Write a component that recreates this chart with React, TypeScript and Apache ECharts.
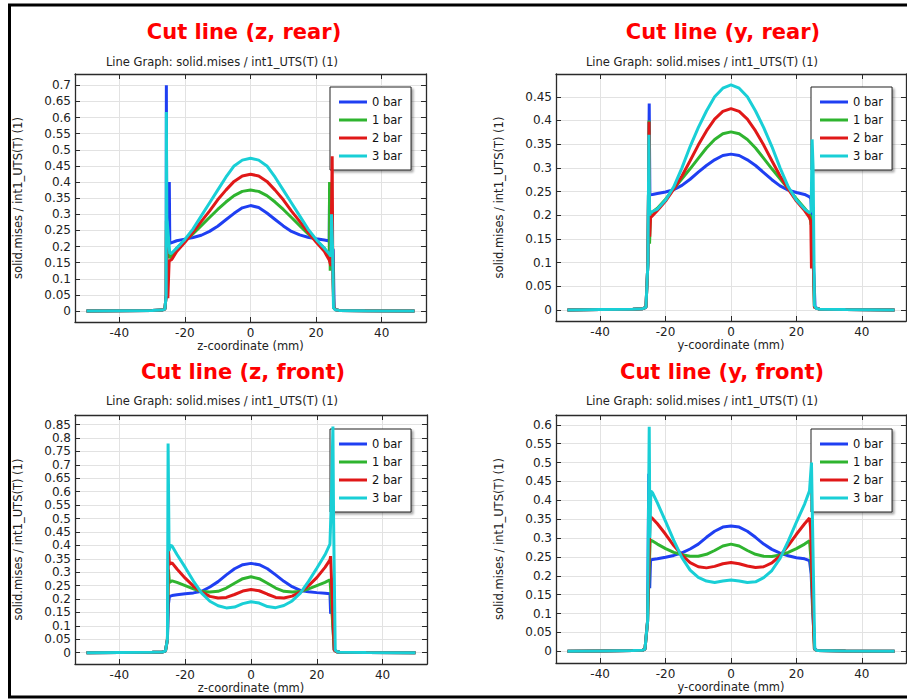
import React, { useEffect, useRef } from "react";
import * as echarts from "echarts";

// ---------- data ----------
const seriesNames = ["0 bar", "1 bar", "2 bar", "3 bar"];
const xTicks = [-40, -20, 0, 20, 40];
const yTicksZRear = [0, 0.05, 0.1, 0.15, 0.2, 0.25, 0.3, 0.35, 0.4, 0.45, 0.5, 0.55, 0.6, 0.65, 0.7];
const yTicksYRear = [0, 0.05, 0.1, 0.15, 0.2, 0.25, 0.3, 0.35, 0.4, 0.45];
const yTicksZFront = [0, 0.05, 0.1, 0.15, 0.2, 0.25, 0.3, 0.35, 0.4, 0.45, 0.5, 0.55, 0.6, 0.65, 0.7, 0.75, 0.8, 0.85];
const yTicksYFront = [0, 0.05, 0.1, 0.15, 0.2, 0.25, 0.3, 0.35, 0.4, 0.45, 0.5, 0.55, 0.6];

// Cut line (z, rear)
const zRear0 = [[-50,0],[-40,0.001],[-30,0.002],[-27,0.003],[-26.1,0.006],[-25.7,0.05],[-25.65,0.7],[-25.55,0.28],[-24.75,0.4],[-24.6,0.21],[-24,0.212],[-22.5,0.218],[-20,0.223],[-17.5,0.228],[-15,0.235],[-12.5,0.247],[-10,0.263],[-7.5,0.283],[-5,0.303],[-2.5,0.32],[0,0.327],[2.5,0.321],[5,0.304],[7.5,0.284],[10,0.264],[12.5,0.247],[15,0.236],[17.5,0.229],[20,0.224],[22.5,0.22],[24,0.217],[24.1,0.37],[24.3,0.205],[25.2,0.19],[25.5,0.01],[26,0.004],[27,0.002],[35,0.001],[50,0]];
const zRear1 = [[-50,0],[-40,0.001],[-30,0.002],[-27,0.003],[-26.1,0.006],[-25.7,0.05],[-25.65,0.28],[-25.5,0.2],[-24.7,0.165],[-24,0.172],[-22.5,0.195],[-20,0.217],[-17.5,0.24],[-15,0.265],[-12.5,0.29],[-10,0.315],[-7.5,0.338],[-5,0.358],[-2.5,0.371],[0,0.375],[2.5,0.371],[5,0.358],[7.5,0.338],[10,0.315],[12.5,0.29],[15,0.265],[17.5,0.24],[20,0.218],[22.5,0.195],[24,0.17],[24.1,0.4],[24.3,0.125],[25,0.2],[25.4,0.01],[26,0.004],[27,0.002],[35,0.001],[50,0]];
const zRear2 = [[-50,0],[-40,0.001],[-30,0.002],[-27,0.003],[-26.1,0.006],[-25.7,0.05],[-25.65,0.25],[-25.2,0.04],[-24.8,0.155],[-24,0.16],[-22.5,0.185],[-20,0.213],[-17.5,0.245],[-15,0.278],[-12.5,0.31],[-10,0.345],[-7.5,0.375],[-5,0.402],[-2.5,0.419],[0,0.424],[2.5,0.419],[5,0.402],[7.5,0.375],[10,0.345],[12.5,0.31],[15,0.278],[17.5,0.245],[20,0.214],[22.5,0.185],[24,0.158],[24.5,0.14],[24.9,0.48],[25.1,0.1],[25.4,0.01],[26,0.004],[27,0.002],[35,0.001],[50,0]];
const zRear3 = [[-50,0],[-40,0.001],[-30,0.002],[-27,0.003],[-26.1,0.006],[-25.7,0.05],[-25.65,0.617],[-25.5,0.29],[-24.6,0.178],[-24,0.18],[-22.5,0.195],[-20,0.222],[-17.5,0.255],[-15,0.295],[-12.5,0.335],[-10,0.375],[-7.5,0.415],[-5,0.45],[-2.5,0.468],[0,0.474],[2.5,0.468],[5,0.45],[7.5,0.415],[10,0.375],[12.5,0.335],[15,0.295],[17.5,0.255],[20,0.222],[22.5,0.195],[24,0.178],[24.5,0.17],[24.7,0.3],[25,0.2],[25.3,0.01],[25.8,0.004],[27,0.002],[35,0.001],[50,0]];

// Cut line (y, rear)
const yRear0 = [[-50,0],[-40,0.001],[-30,0.002],[-27,0.003],[-26,0.006],[-25.4,0.1],[-25,0.436],[-24.8,0.243],[-24,0.244],[-22.5,0.246],[-20,0.249],[-17.5,0.254],[-15,0.263],[-12.5,0.276],[-10,0.291],[-7.5,0.305],[-5,0.317],[-2.5,0.326],[0,0.329],[2.5,0.326],[5,0.317],[7.5,0.305],[10,0.29],[12.5,0.275],[15,0.262],[17.5,0.253],[20,0.248],[22.5,0.244],[24,0.239],[24.4,0.235],[24.6,0.21],[25.2,0.1],[25.7,0.006],[27,0.002],[35,0.001],[50,0]];
const yRear1 = [[-50,0],[-40,0.001],[-30,0.002],[-27,0.003],[-26,0.006],[-25.4,0.1],[-25.05,0.4],[-24.9,0.14],[-24.6,0.205],[-24,0.207],[-22.5,0.215],[-20,0.234],[-17.5,0.256],[-15,0.277],[-12.5,0.298],[-10,0.32],[-7.5,0.342],[-5,0.36],[-2.5,0.372],[0,0.376],[2.5,0.372],[5,0.36],[7.5,0.342],[10,0.32],[12.5,0.298],[15,0.277],[17.5,0.256],[20,0.235],[22.5,0.215],[24,0.203],[24.5,0.18],[24.8,0.2],[25.5,0.006],[27,0.002],[35,0.001],[50,0]];
const yRear2 = [[-50,0],[-40,0.001],[-30,0.002],[-27,0.003],[-26,0.006],[-25.4,0.1],[-25.05,0.397],[-24.85,0.155],[-24.6,0.195],[-24,0.199],[-22.5,0.21],[-20,0.23],[-17.5,0.255],[-15,0.283],[-12.5,0.315],[-10,0.348],[-7.5,0.378],[-5,0.403],[-2.5,0.419],[0,0.425],[2.5,0.419],[5,0.403],[7.5,0.378],[10,0.348],[12.5,0.315],[15,0.283],[17.5,0.255],[20,0.23],[22.5,0.21],[24,0.195],[24.4,0.188],[24.6,0.088],[24.8,0.19],[25.5,0.006],[27,0.002],[35,0.001],[50,0]];
const yRear3 = [[-50,0],[-40,0.001],[-30,0.002],[-27,0.003],[-26,0.006],[-25.4,0.1],[-25.1,0.37],[-24.9,0.2],[-24.6,0.206],[-24,0.208],[-22.5,0.213],[-20,0.232],[-17.5,0.26],[-15,0.3],[-12.5,0.345],[-10,0.385],[-7.5,0.42],[-5,0.45],[-2.5,0.468],[0,0.475],[2.5,0.468],[5,0.45],[7.5,0.42],[10,0.385],[12.5,0.345],[15,0.3],[17.5,0.26],[20,0.232],[22.5,0.213],[24,0.205],[24.5,0.21],[24.8,0.36],[25.1,0.3],[25.5,0.01],[26,0.004],[27,0.002],[35,0.001],[50,0]];

// Cut line (z, front)
const zFront0 = [[-50,0],[-40,0.001],[-30,0.002],[-27,0.003],[-26,0.006],[-25.4,0.05],[-25.1,0.18],[-24.8,0.21],[-24,0.213],[-22.5,0.216],[-20,0.22],[-17.5,0.223],[-15,0.229],[-12.5,0.245],[-10,0.265],[-7.5,0.29],[-5,0.313],[-2.5,0.328],[0,0.333],[2.5,0.328],[5,0.313],[7.5,0.29],[10,0.266],[12.5,0.246],[15,0.232],[17.5,0.227],[20,0.224],[22.5,0.222],[24,0.22],[24.2,0.145],[24.5,0.2],[25.3,0.01],[26,0.004],[27,0.002],[35,0.001],[50,0]];
const zFront1 = [[-50,0],[-40,0.001],[-30,0.002],[-27,0.003],[-26,0.006],[-25.4,0.05],[-25.1,0.31],[-24.8,0.262],[-24,0.268],[-22.5,0.262],[-20,0.25],[-17.5,0.238],[-15,0.228],[-12.5,0.226],[-10,0.229],[-7.5,0.241],[-5,0.259],[-2.5,0.276],[0,0.283],[2.5,0.276],[5,0.259],[7.5,0.241],[10,0.229],[12.5,0.226],[15,0.228],[17.5,0.238],[20,0.25],[22.5,0.262],[24,0.272],[24.2,0.24],[25.3,0.01],[26,0.004],[27,0.002],[35,0.001],[50,0]];
const zFront2 = [[-50,0],[-40,0.001],[-30,0.002],[-27,0.003],[-26,0.006],[-25.4,0.05],[-25.1,0.383],[-24.8,0.33],[-24,0.335],[-22.5,0.312],[-20,0.278],[-17.5,0.248],[-15,0.226],[-12.5,0.21],[-10,0.204],[-7.5,0.206],[-5,0.217],[-2.5,0.23],[0,0.236],[2.5,0.231],[5,0.218],[7.5,0.206],[10,0.204],[12.5,0.211],[15,0.226],[17.5,0.25],[20,0.28],[22.5,0.318],[24,0.346],[24.2,0.36],[25.3,0.01],[26,0.004],[27,0.002],[35,0.001],[50,0]];
const zFront3 = [[-50,0],[-40,0.001],[-30,0.002],[-27,0.003],[-26,0.006],[-25.4,0.05],[-25.2,0.78],[-24.9,0.38],[-24.5,0.4],[-24,0.398],[-22.5,0.366],[-20,0.318],[-17.5,0.267],[-15,0.222],[-12.5,0.192],[-10,0.175],[-7.5,0.167],[-5,0.17],[-2.5,0.183],[0,0.19],[2.5,0.185],[5,0.172],[7.5,0.168],[10,0.176],[12.5,0.193],[15,0.222],[17.5,0.266],[20,0.315],[22.5,0.365],[24,0.405],[24.5,0.6],[24.9,0.843],[25.1,0.5],[25.6,0.01],[26.2,0.004],[27,0.002],[35,0.001],[50,0]];

// Cut line (y, front)
const yFront0 = [[-50,0],[-40,0.001],[-30,0.002],[-27,0.003],[-26.3,0.006],[-25.5,0.08],[-25.15,0.47],[-24.85,0.167],[-24.6,0.242],[-24,0.243],[-22.5,0.245],[-20,0.249],[-17.5,0.254],[-15,0.261],[-12.5,0.271],[-10,0.284],[-7.5,0.302],[-5,0.318],[-2.5,0.329],[0,0.332],[2.5,0.329],[5,0.318],[7.5,0.302],[10,0.284],[12.5,0.27],[15,0.26],[17.5,0.253],[20,0.248],[22.5,0.245],[24,0.24],[24.5,0.205],[25,0.1],[25.6,0.006],[26.3,0.002],[35,0.001],[50,0]];
const yFront1 = [[-50,0],[-40,0.001],[-30,0.002],[-27,0.003],[-26.3,0.006],[-25.5,0.08],[-25,0.221],[-24.7,0.295],[-24,0.292],[-22.5,0.284],[-20,0.272],[-17.5,0.262],[-15,0.256],[-12.5,0.252],[-10,0.252],[-7.5,0.257],[-5,0.267],[-2.5,0.279],[0,0.284],[2.5,0.279],[5,0.267],[7.5,0.257],[10,0.252],[12.5,0.251],[15,0.255],[17.5,0.262],[20,0.272],[22.5,0.284],[24,0.293],[24.4,0.25],[25.5,0.006],[26.3,0.002],[35,0.001],[50,0]];
const yFront2 = [[-50,0],[-40,0.001],[-30,0.002],[-27,0.003],[-26.3,0.006],[-25.5,0.08],[-25,0.28],[-24.7,0.357],[-24,0.352],[-22.5,0.338],[-20,0.31],[-17.5,0.28],[-15,0.255],[-12.5,0.235],[-10,0.224],[-7.5,0.221],[-5,0.225],[-2.5,0.232],[0,0.235],[2.5,0.232],[5,0.226],[7.5,0.222],[10,0.224],[12.5,0.234],[15,0.253],[17.5,0.28],[20,0.31],[22.5,0.338],[24,0.353],[24.3,0.33],[25.5,0.006],[26.3,0.002],[35,0.001],[50,0]];
const yFront3 = [[-50,0],[-40,0.001],[-30,0.002],[-27,0.003],[-26.3,0.006],[-25.5,0.08],[-25,0.595],[-24.8,0.3],[-24.5,0.425],[-24,0.42],[-22.5,0.393],[-20,0.344],[-17.5,0.294],[-15,0.248],[-12.5,0.215],[-10,0.196],[-7.5,0.186],[-5,0.182],[-2.5,0.186],[0,0.189],[2.5,0.186],[5,0.182],[7.5,0.184],[10,0.195],[12.5,0.214],[15,0.246],[17.5,0.292],[20,0.342],[22.5,0.39],[24,0.425],[24.6,0.5],[25,0.3],[25.6,0.006],[26.3,0.002],[35,0.001],[50,0]];

// ---------- styling / layout ----------
const COLORS = ["#1f3ff2", "#2fb42f", "#e01818", "#19cfd6"];
const FONT = "DejaVu Sans";
const SUBTITLE = "Line Graph: solid.mises / int1_UTS(T) (1)";
const YNAME = "solid.mises / int1_UTS(T) (1)";

const panels = [
  { title: "Cut line (z, rear)", xName: "z-coordinate (mm)", series: [zRear0, zRear1, zRear2, zRear3], yTicks: yTicksZRear, yMin: -0.034, yMax: 0.735,
    grid: { left: 75, top: 74, width: 351, height: 248 }, legend: { left: 330, top: 87 }, titleX: 244, titleY: 32, subX: 222, subY: 62 },
  { title: "Cut line (y, rear)", xName: "y-coordinate (mm)", series: [yRear0, yRear1, yRear2, yRear3], yTicks: yTicksYRear, yMin: -0.023, yMax: 0.498,
    grid: { left: 556, top: 74, width: 350, height: 247 }, legend: { left: 811, top: 87 }, titleX: 723, titleY: 32, subX: 702, subY: 62 },
  { title: "Cut line (z, front)", xName: "z-coordinate (mm)", series: [zFront0, zFront1, zFront2, zFront3], yTicks: yTicksZFront, yMin: -0.042, yMax: 0.886,
    grid: { left: 75, top: 415, width: 352, height: 249 }, legend: { left: 330, top: 429 }, titleX: 243, titleY: 372, subX: 222, subY: 401 },
  { title: "Cut line (y, front)", xName: "y-coordinate (mm)", series: [yFront0, yFront1, yFront2, yFront3], yTicks: yTicksYFront, yMin: -0.031, yMax: 0.626,
    grid: { left: 556, top: 415, width: 350, height: 248 }, legend: { left: 811, top: 429 }, titleX: 722, titleY: 372, subX: 702, subY: 401 },
];

const AXIS_COLOR = "#2a2a2a";
const fmt = (v: number) => String(Math.round(v * 1000) / 1000);

function buildOption() {
  const grid: any[] = [];
  const xAxis: any[] = [];
  const yAxis: any[] = [];
  const series: any[] = [];
  const legend: any[] = [];
  const graphic: any[] = [
    { type: "rect", shape: { x: 9.5, y: 5, width: 910, height: 692 }, style: { fill: "none", stroke: "#000", lineWidth: 3 }, z: 100 },
  ];

  panels.forEach((p, i) => {
    grid.push({ ...p.grid, show: false });
    const tickCommon = { show: true, inside: true, length: 5, lineStyle: { color: AXIS_COLOR, width: 1 } };
    const lineCommon = { show: true, onZero: false, lineStyle: { color: AXIS_COLOR, width: 1.3 } };
    xAxis.push({
      type: "value", gridIndex: i, min: -53.5, max: 53.5, position: "bottom",
      name: p.xName, nameLocation: "middle", nameGap: 17,
      nameTextStyle: { fontFamily: FONT, fontSize: 11.5, color: "#222" },
      axisLine: lineCommon,
      axisTick: { ...tickCommon, customValues: xTicks },
      axisLabel: { customValues: xTicks, margin: 5, fontFamily: FONT, fontSize: 12, color: "#222", formatter: fmt },
      splitLine: { show: true, lineStyle: { color: "#e2e2e2", width: 1 } },
    });
    xAxis.push({
      type: "value", gridIndex: i, min: -53.5, max: 53.5, position: "top",
      axisLine: lineCommon,
      axisTick: { ...tickCommon, customValues: xTicks },
      axisLabel: { show: false, customValues: xTicks },
      splitLine: { show: false },
    });
    yAxis.push({
      type: "value", gridIndex: i, min: p.yMin, max: p.yMax, position: "left",
      name: YNAME, nameLocation: "middle", nameGap: 51,
      nameTextStyle: { fontFamily: FONT, fontSize: 11.5, color: "#222" },
      axisLine: lineCommon,
      axisTick: { ...tickCommon, customValues: p.yTicks },
      axisLabel: { customValues: p.yTicks, margin: 4, fontFamily: FONT, fontSize: 12, color: "#222", formatter: fmt },
      splitLine: { show: true, lineStyle: { color: "#e2e2e2", width: 1 } },
    });
    yAxis.push({
      type: "value", gridIndex: i, min: p.yMin, max: p.yMax, position: "right",
      axisLine: lineCommon,
      axisTick: { ...tickCommon, customValues: p.yTicks },
      axisLabel: { show: false, customValues: p.yTicks },
      splitLine: { show: false },
    });
    p.series.forEach((d, k) => {
      series.push({
        type: "line", name: seriesNames[k], data: d, xAxisIndex: 2 * i, yAxisIndex: 2 * i,
        symbol: "none", showSymbol: false, smooth: false,
        lineStyle: { color: COLORS[k], width: 3 }, itemStyle: { color: COLORS[k] },
        emphasis: { disabled: true }, z: 2 + k,
      });
    });
    legend.push({
      left: p.legend.left, top: p.legend.top, orient: "vertical",
      data: seriesNames.map((n) => ({ name: n, icon: "rect" })),
      itemWidth: 28, itemHeight: 3, itemGap: 4, padding: [8, 9, 7, 9],
      backgroundColor: "#fff", borderColor: "#222", borderWidth: 1,
      shadowColor: "rgba(0,0,0,0.35)", shadowBlur: 2, shadowOffsetX: 2, shadowOffsetY: 2,
      textStyle: { fontFamily: FONT, fontSize: 11.5, color: "#111", lineHeight: 14 },
      selectedMode: false,
    });
    graphic.push({
      type: "text", x: p.titleX, y: p.titleY,
      style: { text: p.title, fill: "#ff0000", font: `bold 21px "${FONT}"`, textAlign: "center", textVerticalAlign: "middle" },
    });
    graphic.push({
      type: "text", x: p.subX, y: p.subY,
      style: { text: SUBTITLE, fill: "#222", font: `11.5px "${FONT}"`, textAlign: "center", textVerticalAlign: "middle" },
    });
  });

  return { animation: false, backgroundColor: "#fff", grid, xAxis, yAxis, series, legend, graphic };
}

export default function App() {
  const ref = useRef<HTMLDivElement>(null);
  useEffect(() => {
    if (!ref.current) return;
    const chart = echarts.init(ref.current, null, { renderer: "svg" });
    chart.setOption(buildOption() as any);
    return () => chart.dispose();
  }, []);
  return (
    <div
      ref={ref}
      style={{ position: "absolute", left: 0, top: 0, width: 907, height: 699, background: "#fff" }}
    />
  );
}
